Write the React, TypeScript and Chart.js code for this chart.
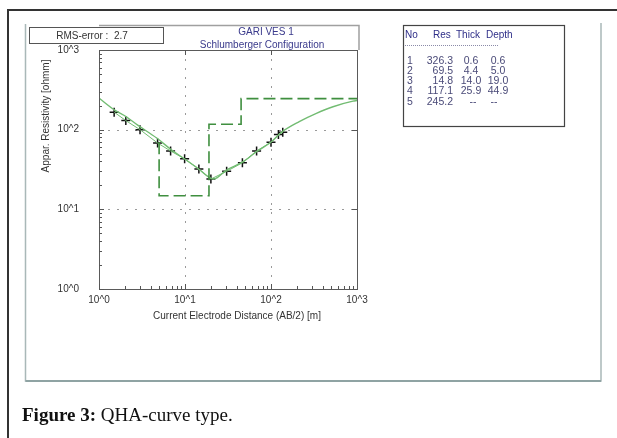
import React, { useEffect, useRef } from 'react';
import { Chart, registerables } from 'chart.js';

Chart.register(...registerables);

// ---- data ----
const obsAB = [1.5, 2.05, 3.0, 4.8, 6.8, 9.9, 14.5, 20, 30.5, 46.5, 68, 100, 122, 137];
const obsRes = [166, 130, 100, 68, 54, 43, 32, 24, 30, 38.4, 54, 69.5, 87, 92.5];
const calcAB = [1, 1.52, 2.1, 2.82, 4.69, 7.0, 9.93, 14.4, 18.9, 21.6, 30.3, 47.3, 67.6, 101, 132, 213, 337, 526, 897, 1000];
const calcRes = [249, 176, 144, 114, 78.5, 55.5, 42.8, 32.1, 25.4, 24.0, 31.1, 39.6, 52.8, 70.5, 92.5, 126, 160, 194, 228, 232];
const layerNo = [1, 2, 3, 4, 5];
const layerRes = [326.3, 69.5, 14.8, 117.1, 245.2];
const layerThick: (number | null)[] = [0.6, 4.4, 14.0, 25.9, null];
const layerDepth: (number | null)[] = [0.6, 5.0, 19.0, 44.9, null];
const decadeLabels = ['10^0', '10^1', '10^2', '10^3'];
const axisMin = 1;
const axisMax = 1000;
const rmsError = 2.7;
const titleLine1 = 'GARI VES 1';
const titleLine2 = 'Schlumberger Configuration';
const xTitle = 'Current Electrode Distance (AB/2) [m]';
const yTitle = 'Appar. Resistivity [ohmm]';
const tableHeader = ['No', 'Res', 'Thick', 'Depth'];
const captionBold = 'Figure 3:';
const captionText = ' QHA-curve type.';

const SANS = "'Liberation Sans', Arial, sans-serif";
const SERIF = "'Liberation Serif', 'DejaVu Serif', serif";

function decadeIndex(v: number): number {
  const l = Math.log10(v);
  const r = Math.round(l);
  return Math.abs(l - r) < 1e-6 ? r : -1;
}

function buildModelSteps() {
  const pts: { x: number; y: number }[] = [];
  for (let i = 1; i < layerRes.length - 1; i++) {
    const d = layerDepth[i] as number;
    pts.push({ x: d, y: layerRes[i] });
    pts.push({ x: d, y: layerRes[i + 1] });
  }
  pts.push({ x: axisMax, y: layerRes[layerRes.length - 1] });
  return pts;
}

const decorPlugin = {
  id: 'decor',
  beforeDraw(chart: any) {
    const ctx = chart.ctx;
    ctx.save();
    ctx.fillStyle = '#ffffff';
    ctx.fillRect(0, 0, chart.width, chart.height);
    ctx.restore();
  },
  beforeDatasetsDraw(chart: any) {
    const ctx = chart.ctx;
    const xs = chart.scales.x;
    const ys = chart.scales.y;
    const a = chart.chartArea;
    ctx.save();
    ctx.strokeStyle = '#9a9a9a';
    ctx.lineWidth = 1;
    ctx.setLineDash([2, 7]);
    for (let e = 1; e < 3; e++) {
      const px = Math.round(xs.getPixelForValue(Math.pow(10, e))) + 0.5;
      ctx.beginPath();
      ctx.moveTo(px, a.top);
      ctx.lineTo(px, a.bottom);
      ctx.stroke();
      const py = Math.round(ys.getPixelForValue(Math.pow(10, e))) + 0.5;
      ctx.beginPath();
      ctx.moveTo(a.left, py);
      ctx.lineTo(a.right, py);
      ctx.stroke();
    }
    ctx.restore();
  },
  afterDraw(chart: any) {
    const ctx = chart.ctx;
    const xs = chart.scales.x;
    const ys = chart.scales.y;
    const a = chart.chartArea;
    ctx.save();

    // plot frame
    ctx.strokeStyle = '#5a5a5a';
    ctx.lineWidth = 1;
    ctx.setLineDash([]);
    ctx.strokeRect(Math.round(a.left) + 0.5, Math.round(a.top) + 0.5, Math.round(a.right - a.left), Math.round(a.bottom - a.top));

    // ticks inside the frame
    ctx.strokeStyle = '#555';
    for (let e = 0; e < 3; e++) {
      for (let m = 1; m < 10; m++) {
        const v = m * Math.pow(10, e);
        const len = m === 1 ? 5 : 3;
        const px = Math.round(xs.getPixelForValue(v)) + 0.5;
        const py = Math.round(ys.getPixelForValue(v)) + 0.5;
        ctx.beginPath();
        ctx.moveTo(px, a.bottom);
        ctx.lineTo(px, a.bottom - len);
        ctx.moveTo(a.left, py);
        ctx.lineTo(a.left + len, py);
        if (m === 1) {
          ctx.moveTo(px, a.top);
          ctx.lineTo(px, a.top + len);
          ctx.moveTo(a.right, py);
          ctx.lineTo(a.right - len, py);
        }
        ctx.stroke();
      }
    }

    // axis titles
    ctx.fillStyle = '#333';
    ctx.font = `10px ${SANS}`;
    ctx.textAlign = 'center';
    ctx.textBaseline = 'middle';
    ctx.fillText(xTitle, 237, 316);
    ctx.save();
    ctx.translate(46, 116);
    ctx.rotate(-Math.PI / 2);
    ctx.fillText(yTitle, 0, 0);
    ctx.restore();

    // title box
    ctx.strokeStyle = '#a0a0a0';
    ctx.lineWidth = 1.5;
    ctx.beginPath();
    ctx.moveTo(a.left, 25.5);
    ctx.lineTo(a.right + 2, 25.5);
    ctx.lineTo(a.right + 2, a.top);
    ctx.stroke();
    ctx.fillStyle = '#3a3a8c';
    ctx.font = `10px ${SANS}`;
    ctx.fillText(titleLine1, 266, 32);
    ctx.fillText(titleLine2, 262, 45);

    // RMS box
    ctx.fillStyle = '#ffffff';
    ctx.fillRect(29.5, 27.5, 134, 16);
    ctx.strokeStyle = '#555';
    ctx.lineWidth = 1;
    ctx.strokeRect(29.5, 27.5, 134, 16);
    ctx.fillStyle = '#333';
    ctx.fillText(`RMS-error :  ${rmsError.toFixed(1)}`, 92, 36);

    // table box
    ctx.strokeStyle = '#444';
    ctx.lineWidth = 1.2;
    ctx.strokeRect(403.5, 25.5, 161, 101);
    ctx.textAlign = 'left';
    ctx.fillStyle = '#2e2e88';
    ctx.font = `10px ${SANS}`;
    const hx = [405, 433, 456, 486];
    tableHeader.forEach((h, i) => ctx.fillText(h, hx[i], 35));
    ctx.strokeStyle = '#8a8aa8';
    ctx.lineWidth = 1;
    ctx.setLineDash([1, 1]);
    ctx.beginPath();
    ctx.moveTo(405, 45.5);
    ctx.lineTo(498, 45.5);
    ctx.stroke();
    ctx.setLineDash([]);
    ctx.fillStyle = '#4a4a78';
    ctx.font = `10.5px ${SANS}`;
    const fmt = (v: number | null) => (v === null ? '--' : v.toFixed(1));
    for (let i = 0; i < layerNo.length; i++) {
      const y = 61 + i * 10.2;
      ctx.textAlign = 'left';
      ctx.fillText(String(layerNo[i]), 407, y);
      ctx.textAlign = 'right';
      ctx.fillText(layerRes[i].toFixed(1), 453, y);
      const t = fmt(layerThick[i]);
      const d = fmt(layerDepth[i]);
      ctx.textAlign = 'center';
      ctx.fillText(t, t === '--' ? 473 : 471, y);
      ctx.fillText(d, d === '--' ? 494 : 498, y);
    }

    // page frames
    ctx.strokeStyle = '#a9b8b8';
    ctx.lineWidth = 1.5;
    ctx.beginPath();
    ctx.moveTo(25.5, 24);
    ctx.lineTo(25.5, 381);
    ctx.lineTo(601, 381);
    ctx.lineTo(601, 23);
    ctx.stroke();
    ctx.strokeStyle = '#8fa3a3';
    ctx.lineWidth = 2;
    ctx.beginPath();
    ctx.moveTo(25.5, 381);
    ctx.lineTo(601, 381);
    ctx.stroke();

    ctx.strokeStyle = '#333';
    ctx.lineWidth = 2;
    ctx.beginPath();
    ctx.moveTo(617, 10);
    ctx.lineTo(8, 10);
    ctx.lineTo(8, 438);
    ctx.stroke();

    // caption
    ctx.textAlign = 'left';
    ctx.textBaseline = 'alphabetic';
    ctx.fillStyle = '#111';
    ctx.font = `bold 19px ${SERIF}`;
    ctx.fillText(captionBold, 22, 421);
    const w = ctx.measureText(captionBold).width;
    ctx.font = `19px ${SERIF}`;
    ctx.fillText(captionText, 22 + w, 421);

    ctx.restore();
  },
};

export default function App() {
  const ref = useRef<HTMLCanvasElement | null>(null);

  useEffect(() => {
    if (!ref.current) return;
    const chart = new Chart(ref.current, {
      type: 'scatter',
      data: {
        datasets: [
          {
            label: 'model',
            data: buildModelSteps(),
            showLine: true,
            borderColor: '#3f8f3f',
            borderWidth: 1.6,
            borderDash: [12, 5],
            pointRadius: 0,
            tension: 0,
          },
          {
            label: 'calculated',
            data: calcAB.map((x, i) => ({ x, y: calcRes[i] })),
            showLine: true,
            borderColor: '#72bc72',
            borderWidth: 1.4,
            pointRadius: 0,
            cubicInterpolationMode: 'monotone',
          },
          {
            label: 'observed line',
            data: obsAB.map((x, i) => ({ x, y: obsRes[i] })),
            showLine: true,
            borderColor: '#72bc72',
            borderWidth: 1,
            pointRadius: 0,
            tension: 0,
          },
          {
            label: 'observed',
            data: obsAB.map((x, i) => ({ x, y: obsRes[i] })),
            showLine: false,
            pointStyle: 'cross',
            pointRadius: 4.5,
            borderColor: '#111',
            pointBorderWidth: 1.5,
          },
        ],
      } as any,
      options: {
        responsive: false,
        animation: false,
        layout: { padding: { left: 0, right: 260, top: 50, bottom: 113 } },
        plugins: {
          legend: { display: false },
          tooltip: { enabled: false },
        },
        scales: {
          x: {
            type: 'logarithmic',
            min: axisMin,
            max: axisMax,
            position: 'bottom',
            grid: { display: false, drawTicks: false },
            border: { display: false },
            ticks: {
              autoSkip: false,
              maxRotation: 0,
              padding: 5,
              color: '#333',
              font: { family: SANS, size: 10 },
              callback: (v: any) => {
                const d = decadeIndex(Number(v));
                return d >= 0 ? decadeLabels[d] : '';
              },
            },
            afterFit: (s: any) => {
              s.height = 36;
            },
          },
          y: {
            type: 'logarithmic',
            min: axisMin,
            max: axisMax,
            position: 'left',
            grid: { display: false, drawTicks: false },
            border: { display: false },
            ticks: {
              autoSkip: false,
              padding: 20,
              color: '#333',
              font: { family: SANS, size: 10 },
              callback: (v: any) => {
                const d = decadeIndex(Number(v));
                return d >= 0 ? decadeLabels[d] : '';
              },
            },
            afterFit: (s: any) => {
              s.width = 99;
            },
          },
        },
      } as any,
      plugins: [decorPlugin],
    });
    return () => chart.destroy();
  }, []);

  return (
    <div style={{ position: 'fixed', left: 0, top: 0, width: 617, height: 438, background: '#fff' }}>
      <canvas ref={ref} width={617} height={438} style={{ display: 'block' }} />
    </div>
  );
}
